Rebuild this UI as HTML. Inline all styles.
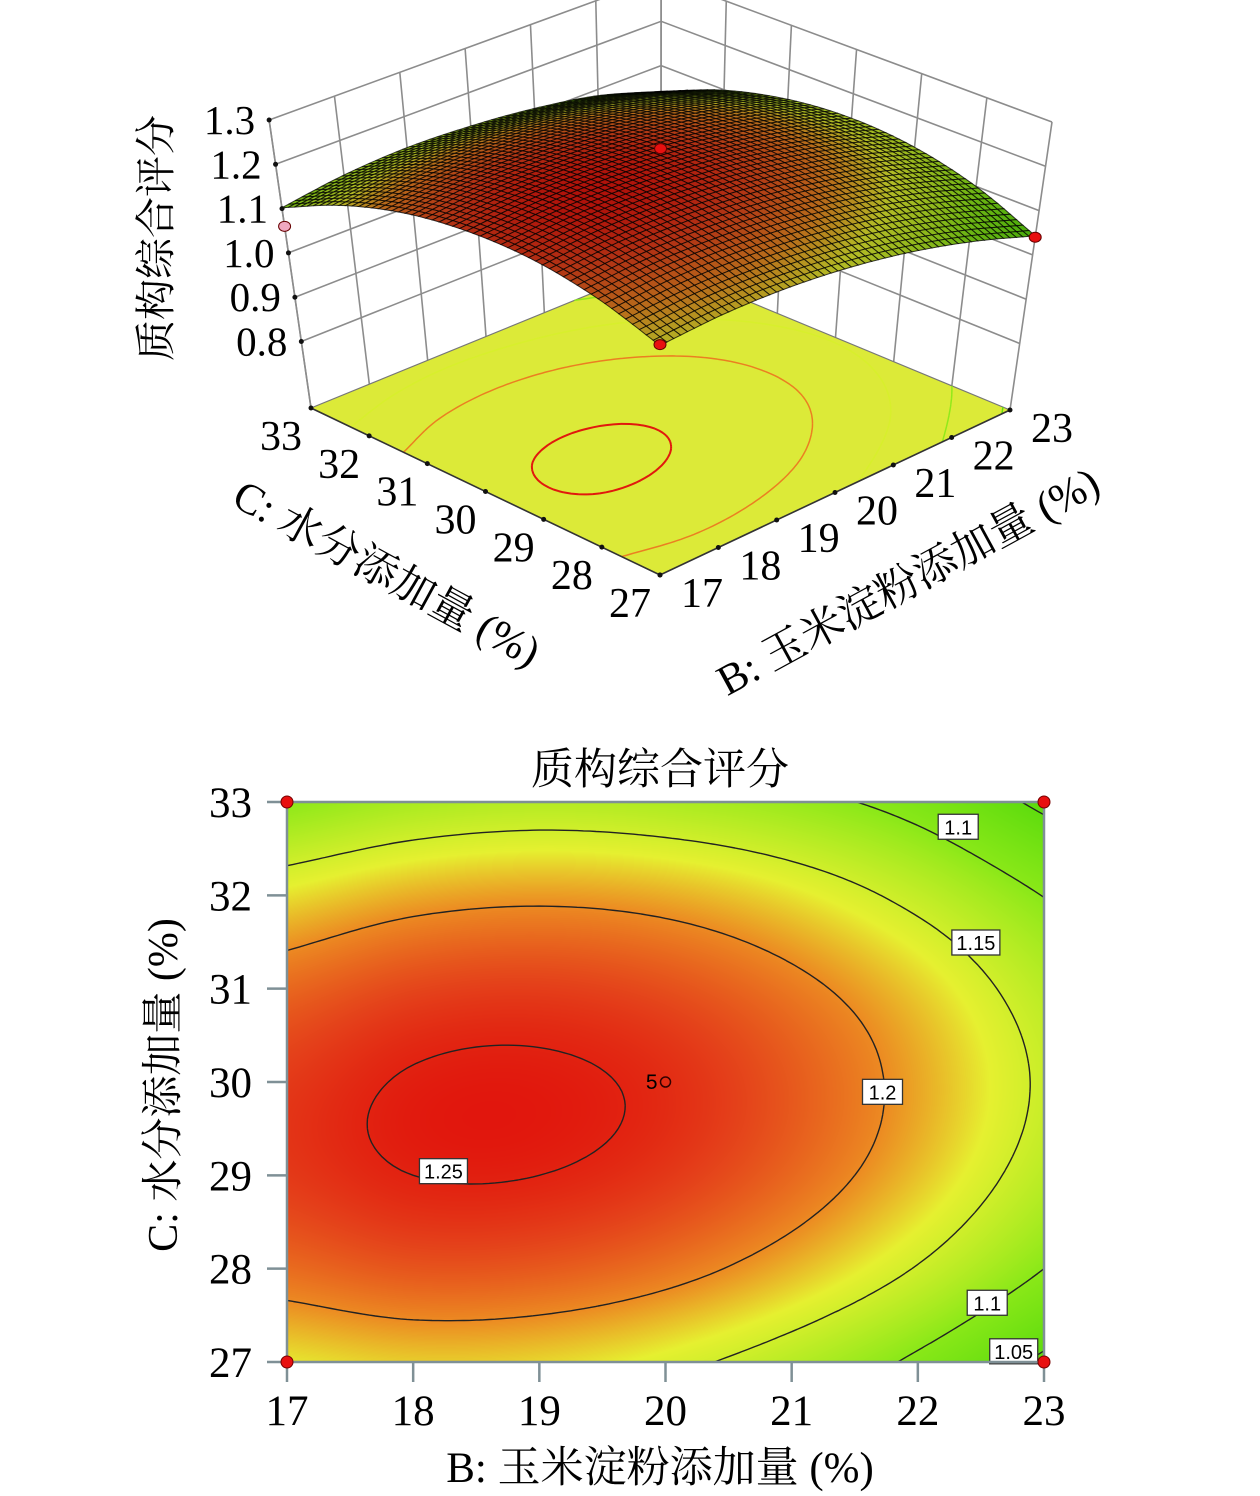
<!DOCTYPE html>
<html><head><meta charset="utf-8">
<style>
html,body{margin:0;padding:0;background:#fff;}
#root{position:relative;width:1260px;height:1496px;overflow:hidden;font-family:"Liberation Serif","Noto Serif CJK SC",serif;}
svg{position:absolute;left:0;top:0;}
#heat{position:absolute;left:287px;top:802px;}
</style></head>
<body>
<div id="root">
<svg id="top3d" width="1260" height="720"></svg>
<canvas id="heat" width="757" height="560"></canvas>
<svg id="cont" width="1260" height="1496" style="pointer-events:none"></svg>
</div>
<script>
// ---- data ----
const bTicks=[17,18,19,20,21,22,23];
const cTicks=[27,28,29,30,31,32,33];
const zTicks=[0.8,0.9,1.0,1.1,1.2,1.3];
const zTickLabels=["0.8","0.9","1.0","1.1","1.2","1.3"];
// rows: C=27..33, columns: B=17..23
const scoreGrid=[
 [1.168,1.177,1.174,1.159,1.132,1.093,1.043],
 [1.214,1.225,1.223,1.210,1.185,1.148,1.100],
 [1.238,1.250,1.250,1.239,1.216,1.181,1.134],
 [1.238,1.252,1.254,1.245,1.223,1.190,1.145],
 [1.216,1.232,1.236,1.228,1.208,1.177,1.133],
 [1.170,1.188,1.194,1.188,1.170,1.140,1.099],
 [1.102,1.122,1.130,1.125,1.111,1.086,1.042]
];
const contourLevels=[1.05,1.1,1.15,1.2,1.25];
const contourLabelText=["1.1","1.15","1.2","1.25","1.1","1.05"];
const contourLabelB=[22.32,22.46,21.72,18.24,22.55,22.76];
const contourLabelC=[32.74,31.5,29.9,29.05,27.64,27.12];
const designB=[17,23,17,23,20];
const designC=[27,27,33,33,30];
const designZ=[1.17,1.04,1.06,0.96,1.25];

const NS="http://www.w3.org/2000/svg";
function mk(parent,tag,attrs){const e=document.createElementNS(NS,tag);for(const k in attrs)e.setAttribute(k,attrs[k]);parent.appendChild(e);return e;}

function gv(i,j){
  if(i<0)return 2*gv(0,j)-gv(1,j);
  if(i>6)return 2*gv(6,j)-gv(5,j);
  if(j<0)return 2*gv(i,0)-gv(i,1);
  if(j>6)return 2*gv(i,6)-gv(i,5);
  return scoreGrid[i][j];
}
function cr(p0,p1,p2,p3,t){return 0.5*(2*p1+(-p0+p2)*t+(2*p0-5*p1+4*p2-p3)*t*t+(-p0+3*p1-3*p2+p3)*t*t*t);}
function score(b,c){
  let u=b-17,v=c-27;let j=Math.min(5,Math.floor(u)),i=Math.min(5,Math.floor(v));
  const tu=u-j,tv=v-i;const rows=[];
  for(let k=-1;k<=2;k++)rows.push(cr(gv(i+k,j-1),gv(i+k,j),gv(i+k,j+1),gv(i+k,j+2),tu));
  return cr(rows[0],rows[1],rows[2],rows[3],tv);
}
const stopsV=[1.03,1.10,1.165,1.20,1.235,1.26];
const stopsC=[[80,216,10],[138,232,24],[230,240,48],[236,138,34],[228,64,26],[224,14,10]];
function cmap(v){
  if(v<=stopsV[0])return stopsC[0].slice();
  for(let k=1;k<stopsV.length;k++){if(v<=stopsV[k]){const t=(v-stopsV[k-1])/(stopsV[k]-stopsV[k-1]);return stopsC[k].map((x,q)=>Math.round(stopsC[k-1][q]+(x-stopsC[k-1][q])*t));}}
  return stopsC[stopsC.length-1].slice();
}
function rgb(a){return "rgb("+a[0]+","+a[1]+","+a[2]+")";}

function contourSegs(L0,N){
  const L=L0+1e-7;
  const segs=[];const vals=[];
  for(let i=0;i<=N;i++){vals.push([]);for(let j=0;j<=N;j++)vals[i].push(score(17+6*j/N,27+6*i/N));}
  for(let i=0;i<N;i++)for(let j=0;j<N;j++){
    const b0=17+6*j/N,b1=17+6*(j+1)/N,c0=27+6*i/N,c1=27+6*(i+1)/N;
    const v00=vals[i][j],v01=vals[i][j+1],v10=vals[i+1][j],v11=vals[i+1][j+1];
    const pts=[];
    function ed(va,vb,pa,pb){if((va-L)*(vb-L)<0){const t=(L-va)/(vb-va);pts.push([pa[0]+(pb[0]-pa[0])*t,pa[1]+(pb[1]-pa[1])*t]);}}
    ed(v00,v01,[b0,c0],[b1,c0]);ed(v01,v11,[b1,c0],[b1,c1]);ed(v11,v10,[b1,c1],[b0,c1]);ed(v10,v00,[b0,c1],[b0,c0]);
    if(pts.length>=2)segs.push([pts[0],pts[1]]);
    if(pts.length===4)segs.push([pts[2],pts[3]]);
  }
  return segs;
}

// ================= 3D plot =================
const s3=document.getElementById('top3d');
const ZF=0.65;
const FC={F:[660,575],R:[1010,410],L:[311,408],K:[661,265]};
function proj(b,c,z){
  const u=(b-17)/6,v=(c-27)/6;
  const xf=FC.F[0]*(1-u)*(1-v)+FC.R[0]*u*(1-v)+FC.L[0]*(1-u)*v+FC.K[0]*u*v;
  const yf=FC.F[1]*(1-u)*(1-v)+FC.R[1]*u*(1-v)+FC.L[1]*(1-u)*v+FC.K[1]*u*v;
  const t=(z-ZF)/0.65;
  return [660+(xf-660)*(1+0.12*t), yf-288*t];
}
function P(p){return p[0].toFixed(1)+","+p[1].toFixed(1);}
const walls=mk(s3,'g',{stroke:'#8c8c8c','stroke-width':'1.6',fill:'none'});


bTicks.forEach(b=>{mk(walls,'line',{x1:proj(b,33,ZF)[0],y1:proj(b,33,ZF)[1],x2:proj(b,33,1.3)[0],y2:proj(b,33,1.3)[1]});});
cTicks.forEach(c=>{mk(walls,'line',{x1:proj(23,c,ZF)[0],y1:proj(23,c,ZF)[1],x2:proj(23,c,1.3)[0],y2:proj(23,c,1.3)[1]});});
zTicks.forEach(z=>{
  mk(walls,'polyline',{points:P(proj(17,33,z))+" "+P(proj(23,33,z))+" "+P(proj(23,27,z))});
});
mk(walls,'line',{x1:proj(23,33,1.3)[0],y1:proj(23,33,1.3)[1],x2:660,y2:0});
const floor=mk(s3,'polygon',{points:[proj(17,27,ZF),proj(23,27,ZF),proj(23,33,ZF),proj(17,33,ZF)].map(P).join(" "),fill:'#dcea38',stroke:'#777','stroke-width':'1.2'});


contourLevels.forEach(L=>{
  const segs=contourSegs(L,80);let d="";
  segs.forEach(s=>{d+="M"+P(proj(s[0][0],s[0][1],ZF))+"L"+P(proj(s[1][0],s[1][1],ZF));});
  const p=mk(s3,'path',{d:d,stroke:rgb(cmap(L+0.005)),'stroke-width':L>=1.25?'2':'1.5',fill:'none'});
  
  
});
const fe=mk(s3,'polyline',{points:P(proj(17,33,ZF))+" "+P(proj(17,27,ZF))+" "+P(proj(23,27,ZF)),stroke:'#333','stroke-width':'1.6',fill:'none'});


cTicks.forEach(c=>{const p=proj(17,c,ZF);const d=mk(s3,'circle',{cx:p[0],cy:p[1],r:2.5,fill:'#111'});});
bTicks.forEach(b=>{const p=proj(b,27,ZF);const d=mk(s3,'circle',{cx:p[0],cy:p[1],r:2.5,fill:'#111'});});
mk(walls,'line',{x1:proj(17,33,ZF)[0],y1:proj(17,33,ZF)[1],x2:proj(17,33,1.3)[0],y2:proj(17,33,1.3)[1]});
zTicks.forEach((z,k)=>{
  const p=proj(17,33,z);
  const tm=mk(s3,'circle',{cx:p[0],cy:p[1],r:2.5,fill:'#111'});
  
  
  const t=mk(s3,'text',{x:p[0]-14,y:p[1]+14,'text-anchor':'end','font-size':'41'});
  t.textContent=zTickLabels[k];
  
  
});
{const p=proj(designB[3],designC[3],designZ[3]);const d=mk(s3,'ellipse',{cx:p[0],cy:p[1],rx:6,ry:4,fill:'#f0a8c0',stroke:'#a06070'});}
const N3=56;const sg=mk(s3,'g',{stroke:'#000','stroke-width':'1','stroke-opacity':'0.75'});


const quads=[];
for(let i=0;i<N3;i++)for(let j=0;j<N3;j++){
  const b0=17+6*j/N3,b1=17+6*(j+1)/N3,c0=27+6*i/N3,c1=27+6*(i+1)/N3;
  const zs=[score(b0,c0),score(b1,c0),score(b1,c1),score(b0,c1)];
  quads.push({k:i+j,pts:[proj(b0,c0,zs[0]),proj(b1,c0,zs[1]),proj(b1,c1,zs[2]),proj(b0,c1,zs[3])],z:(zs[0]+zs[1]+zs[2]+zs[3])/4});
}
quads.sort((a,b)=>b.k-a.k);
quads.forEach(q=>{
  const col=cmap(q.z).map(x=>Math.round(x*0.78));
  const poly=mk(sg,'polygon',{points:q.pts.map(P).join(" "),fill:rgb(col)});
  
  
});
[0,1,2,4].forEach(k=>{
  const p=proj(designB[k],designC[k],designZ[k]);
  const d=mk(s3,'ellipse',{cx:p[0],cy:p[1],rx:6,ry:5,fill:k===2?'#f0a8c0':'#e81010',stroke:'#600','stroke-width':'1'});
  
  
});
cTicks.forEach(c=>{const p=proj(17,c,ZF);const t=mk(s3,'text',{x:p[0]-30,y:p[1]+42,'text-anchor':'middle','font-size':'42'});t.textContent=String(c);});
bTicks.forEach(b=>{const p=proj(b,27,ZF);const t=mk(s3,'text',{x:p[0]+42,y:p[1]+32,'text-anchor':'middle','font-size':'42'});t.textContent=String(b);});
</script>
<script>
(function(){
 const s3=document.getElementById('top3d');
 s3.insertAdjacentHTML('beforeend',
 '<text x="0" y="0" font-size="41" text-anchor="middle" transform="translate(170,238) rotate(-90)">质构综合评分</text>'+
 '<text x="0" y="0" font-size="43" text-anchor="middle" transform="translate(380,586) rotate(28.6)">C: 水分添加量 (%)</text>'+
 '<text x="0" y="0" font-size="43" text-anchor="middle" transform="translate(915,594) rotate(-28.6)">B: 玉米淀粉添加量 (%)</text>');
})();
</script>
<script>
(function(){
const X0=287,X1=1044,Y0=1362,Y1=802;
function px(b){return X0+(b-17)/6*(X1-X0);}
function py(c){return Y0-(c-27)/6*(Y0-Y1);}
const cv=document.getElementById('heat');const ctx=cv.getContext('2d');
const W=cv.width,H=cv.height;const img=ctx.createImageData(W,H);
for(let y=0;y<H;y++)for(let x=0;x<W;x++){
  const b=17+6*(x+0.5)/W,c=33-6*(y+0.5)/H;const col=cmap(score(b,c));const o=(y*W+x)*4;
  img.data[o]=col[0];img.data[o+1]=col[1];img.data[o+2]=col[2];img.data[o+3]=255;
}
ctx.putImageData(img,0,0);
const sv=document.getElementById('cont');
contourLevels.forEach(L=>{
  const segs=contourSegs(L,120);let d="";
  segs.forEach(s=>{d+="M"+px(s[0][0]).toFixed(1)+","+py(s[0][1]).toFixed(1)+"L"+px(s[1][0]).toFixed(1)+","+py(s[1][1]).toFixed(1);});
  const p=mk(sv,'path',{d:d,stroke:'#222','stroke-width':'1.4',fill:'none'});
  
  
});
contourLabelText.forEach((txt,k)=>{
  const x=px(contourLabelB[k]),y=py(contourLabelC[k]);const w=txt.length>3?48:40;
  const g=mk(sv,'g',{});
  
  
  mk(g,'rect',{x:x-w/2,y:y-12,width:w,height:25,fill:'#fff',stroke:'#333','stroke-width':'1.3'});
  const t=mk(g,'text',{x:x,y:y+8,'text-anchor':'middle','font-size':'20','font-family':'Liberation Sans,sans-serif'});t.textContent=txt;
});
const fr=mk(sv,'rect',{x:X0,y:Y1,width:X1-X0,height:Y0-Y1,fill:'none',stroke:'#7f9096','stroke-width':'2.5'});


cTicks.forEach(c=>{
  const tk=mk(sv,'line',{x1:X0-20,x2:X0,y1:py(c),y2:py(c),stroke:'#7f9096','stroke-width':'2.5'});
  
  
  const t=mk(sv,'text',{x:252,y:py(c)+15,'text-anchor':'end','font-size':'43'});t.textContent=String(c);
  
  
});
bTicks.forEach(b=>{
  const tk=mk(sv,'line',{x1:px(b),x2:px(b),y1:Y0,y2:Y0+20,stroke:'#7f9096','stroke-width':'2.5'});
  
  
  const t=mk(sv,'text',{x:px(b),y:1425,'text-anchor':'middle','font-size':'43'});t.textContent=String(b);
  
  
});
[0,1,2,3].forEach(k=>{
  const d=mk(sv,'circle',{cx:px(designB[k]),cy:py(designC[k]),r:6,fill:'#e81010',stroke:'#700','stroke-width':'1'});
  
  
});
const cp=mk(sv,'circle',{cx:px(designB[4]),cy:py(designC[4]),r:5,fill:'none',stroke:'#300','stroke-width':'1.5'});


const cl=mk(sv,'text',{x:px(designB[4])-8,y:py(designC[4])+7,'text-anchor':'end','font-size':'21','font-family':'Liberation Sans,sans-serif'});cl.textContent="5";


sv.insertAdjacentHTML('beforeend',
 '<text x="660" y="784" font-size="43" text-anchor="middle">质构综合评分</text>'+
 '<text x="0" y="0" font-size="42" text-anchor="middle" transform="translate(177,1085) rotate(-90)">C: 水分添加量 (%)</text>'+
 '<text x="660" y="1482" font-size="43" text-anchor="middle">B: 玉米淀粉添加量 (%)</text>');
})();
</script>
</body></html>
